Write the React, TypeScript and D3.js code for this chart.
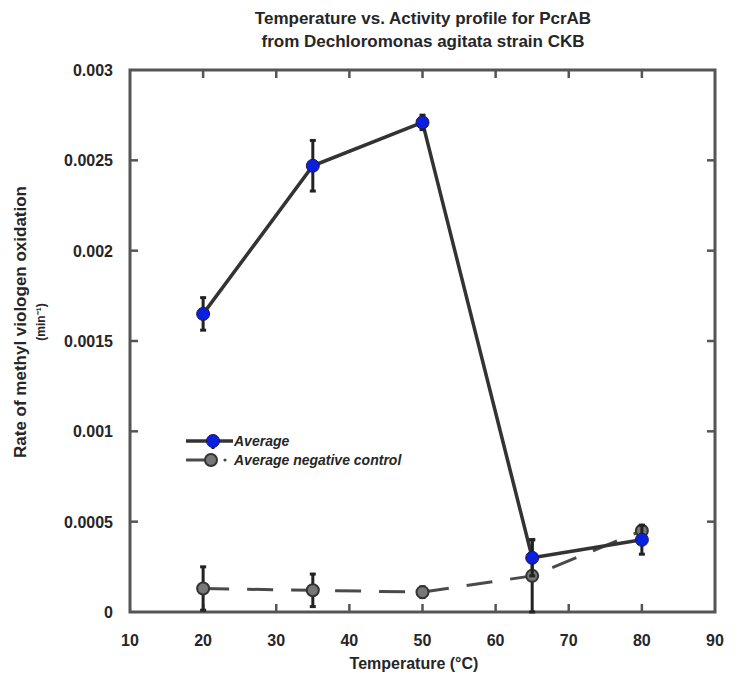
import React, { useEffect, useRef } from 'react';
import * as d3 from 'd3';

const temps = [20, 35, 50, 65, 80];
const averageValues = [0.00165, 0.00247, 0.00271, 0.0003, 0.0004];
const averageErrors = [0.00009, 0.00014, 0.00004, 0.0001, 0.00008];
const negativeValues = [0.00013, 0.00012, 0.00011, 0.0002, 0.00045];
const negativeErrors = [0.00012, 0.00009, 0.00003, 0.0002, 0.00003];
const xTicks = [10, 20, 30, 40, 50, 60, 70, 80, 90];
const yTicks = [0, 0.0005, 0.001, 0.0015, 0.002, 0.0025, 0.003];
const yTickLabels = ['0', '0.0005', '0.001', '0.0015', '0.002', '0.0025', '0.003'];

const App: React.FC = () => {
  const svgRef = useRef<SVGSVGElement>(null);

  useEffect(() => {
    if (!svgRef.current) return;
    const svg = d3.select(svgRef.current);
    svg.selectAll('*').remove();

    const left = 130, right = 715, top = 70, bottom = 612;
    const font = '"Liberation Sans", Arial, sans-serif';
    const ink = '#262626';

    const x = d3.scaleLinear().domain([10, 90]).range([left, right]);
    const y = d3.scaleLinear().domain([0, 0.003]).range([bottom, top]);

    // frame with inward ticks
    const frame = svg.append('g').attr('stroke', '#555').attr('fill', 'none');
    frame.append('rect')
      .attr('x', left).attr('y', top)
      .attr('width', right - left).attr('height', bottom - top)
      .attr('stroke-width', 3);
    xTicks.slice(1, -1).forEach(t => {
      frame.append('line').attr('x1', x(t)).attr('x2', x(t)).attr('y1', bottom).attr('y2', bottom - 8).attr('stroke-width', 2.5);
      frame.append('line').attr('x1', x(t)).attr('x2', x(t)).attr('y1', top).attr('y2', top + 8).attr('stroke-width', 2.5);
    });
    yTicks.slice(1, -1).forEach(t => {
      frame.append('line').attr('x1', left).attr('x2', left + 8).attr('y1', y(t)).attr('y2', y(t)).attr('stroke-width', 2.5);
      frame.append('line').attr('x1', right).attr('x2', right - 8).attr('y1', y(t)).attr('y2', y(t)).attr('stroke-width', 2.5);
    });

    // tick labels
    svg.append('g').selectAll('text')
      .data(xTicks).enter().append('text')
      .attr('x', d => x(d)).attr('y', bottom + 34)
      .attr('text-anchor', 'middle')
      .attr('font-family', font).attr('font-weight', 'bold').attr('font-size', 16)
      .attr('fill', ink)
      .text(d => String(d));

    svg.append('g').selectAll('text')
      .data(yTicks).enter().append('text')
      .attr('x', left - 17).attr('y', d => y(d) + 6)
      .attr('text-anchor', 'end')
      .attr('font-family', font).attr('font-weight', 'bold').attr('font-size', 16)
      .attr('fill', ink)
      .text((d, i) => yTickLabels[i]);

    // title
    const title = svg.append('text')
      .attr('text-anchor', 'middle')
      .attr('font-family', font).attr('font-weight', 'bold').attr('font-size', 17)
      .attr('fill', ink);
    title.append('tspan').attr('x', 423).attr('y', 24).text('Temperature vs. Activity profile for PcrAB');
    title.append('tspan').attr('x', 423).attr('y', 47).text('from Dechloromonas agitata strain CKB');

    // axis titles
    svg.append('text')
      .attr('x', 414).attr('y', 669)
      .attr('text-anchor', 'middle')
      .attr('font-family', font).attr('font-weight', 'bold').attr('font-size', 16)
      .attr('fill', ink)
      .text('Temperature (°C)');

    const yl = svg.append('text')
      .attr('transform', `translate(26, 322) rotate(-90)`)
      .attr('text-anchor', 'middle')
      .attr('font-family', font).attr('font-weight', 'bold').attr('font-size', 17)
      .attr('fill', ink);
    yl.append('tspan').attr('x', 0).attr('y', 0).text('Rate of methyl viologen oxidation');
    yl.append('tspan').attr('x', 0).attr('y', 19).attr('font-size', 12).text('(min⁻¹)');

    const plot = svg.append('g');

    const negData = temps.map((t, i) => ({ t, v: negativeValues[i], e: negativeErrors[i] }));
    const avgData = temps.map((t, i) => ({ t, v: averageValues[i], e: averageErrors[i] }));
    const line = d3.line<{ t: number; v: number }>().x(d => x(d.t)).y(d => y(d.v));

    // negative control dashed line
    plot.append('path')
      .datum(negData)
      .attr('d', line)
      .attr('fill', 'none')
      .attr('stroke', '#4a4a4a')
      .attr('stroke-width', 3)
      .attr('stroke-dasharray', '26,18');

    const errBars = (data: { t: number; v: number; e: number }[], color: string) => {
      data.forEach(d => {
        plot.append('line')
          .attr('x1', x(d.t)).attr('x2', x(d.t))
          .attr('y1', y(d.v - d.e)).attr('y2', y(d.v + d.e))
          .attr('stroke', color).attr('stroke-width', 3);
        [d.v - d.e, d.v + d.e].forEach(v => {
          plot.append('line')
            .attr('x1', x(d.t) - 3).attr('x2', x(d.t) + 3)
            .attr('y1', y(v)).attr('y2', y(v))
            .attr('stroke', color).attr('stroke-width', 3);
        });
      });
    };

    errBars(negData, '#222');
    plot.selectAll('.neg-dot')
      .data(negData).enter().append('circle')
      .attr('class', 'neg-dot')
      .attr('cx', d => x(d.t)).attr('cy', d => y(d.v))
      .attr('r', 6)
      .attr('fill', '#777')
      .attr('stroke', '#333')
      .attr('stroke-width', 2);

    // average solid line
    plot.append('path')
      .datum(avgData)
      .attr('d', line)
      .attr('fill', 'none')
      .attr('stroke', '#333')
      .attr('stroke-width', 3.5);

    errBars(avgData, '#222');
    plot.selectAll('.avg-dot')
      .data(avgData).enter().append('circle')
      .attr('class', 'avg-dot')
      .attr('cx', d => x(d.t)).attr('cy', d => y(d.v))
      .attr('r', 6.5)
      .attr('fill', '#0a1fe0')
      .attr('stroke', '#1a1a4a')
      .attr('stroke-width', 1);

    // legend
    const lg = svg.append('g').attr('transform', 'translate(186, 441)');
    lg.append('line').attr('x1', 0).attr('x2', 47).attr('y1', 0).attr('y2', 0)
      .attr('stroke', '#333').attr('stroke-width', 3.5);
    lg.append('line').attr('x1', 27).attr('x2', 27).attr('y1', -4).attr('y2', 8)
      .attr('stroke', '#222').attr('stroke-width', 3);
    lg.append('circle').attr('cx', 27).attr('cy', 0).attr('r', 6.5)
      .attr('fill', '#0a1fe0').attr('stroke', '#1a1a4a').attr('stroke-width', 1);
    lg.append('line').attr('x1', 0).attr('x2', 22).attr('y1', 19).attr('y2', 19)
      .attr('stroke', '#4a4a4a').attr('stroke-width', 3);
    lg.append('circle').attr('cx', 25).attr('cy', 19).attr('r', 6)
      .attr('fill', '#777').attr('stroke', '#333').attr('stroke-width', 2);
    lg.append('circle').attr('cx', 39).attr('cy', 19).attr('r', 1.6).attr('fill', '#444');

    lg.selectAll('.lg-text')
      .data(['Average', 'Average negative control']).enter().append('text')
      .attr('class', 'lg-text')
      .attr('x', 48).attr('y', (d, i) => i * 19 + 5)
      .attr('font-family', font).attr('font-weight', 'bold').attr('font-style', 'italic')
      .attr('font-size', 14).attr('fill', ink)
      .text(d => d);
  }, []);

  return (
    <svg
      ref={svgRef}
      width={739}
      height={677}
      style={{ position: 'absolute', left: 0, top: 0, background: '#fff' }}
    />
  );
};

export default App;
